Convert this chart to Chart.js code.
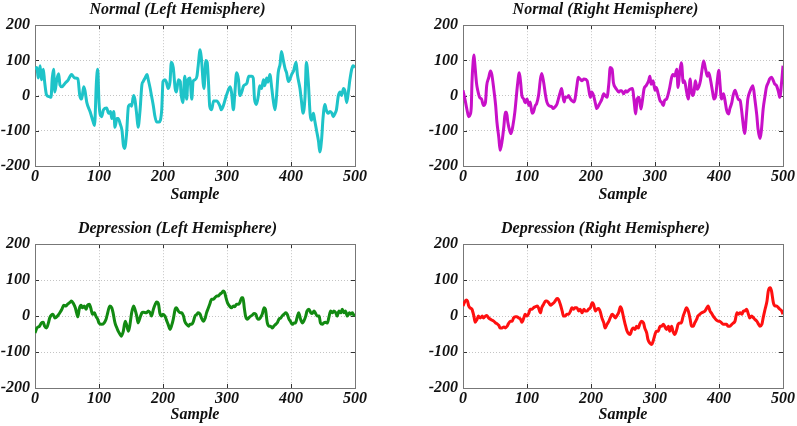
<!DOCTYPE html>
<html>
<head>
<meta charset="utf-8">
<script src="https://cdn.jsdelivr.net/npm/chart.js@4.4.1/dist/chart.umd.min.js"></script>
<style>
  body { margin: 0; background: #fff; width: 797px; height: 426px; overflow: hidden; position: relative; }
  .panel { position: absolute; width: 369px; }
</style>
</head>
<body>
<div class="panel" style="left:0;top:0;height:205px"><canvas id="normLeft"></canvas></div>
<div class="panel" style="left:428px;top:0;height:205px"><canvas id="normRight"></canvas></div>
<div class="panel" style="left:0;top:219px;height:206px"><canvas id="depLeft"></canvas></div>
<div class="panel" style="left:428px;top:219px;height:206px"><canvas id="depRight"></canvas></div>
<script>
// tick labels
var xTickValues = [0, 100, 200, 300, 400, 500];
var yTickValues = [-200, -100, 0, 100, 200];

var panelTitles = ['Normal (Left Hemisphere)', 'Normal (Right Hemisphere)',
  'Depression (Left Hemisphere)', 'Depression (Right Hemisphere)'];

// Normal, left hemisphere
var normLeftSample = [
  0, 3, 5, 8, 10, 13, 15, 18, 22, 25,
  27, 29, 31, 34, 37, 39, 42, 47, 52, 57,
  62, 67, 70, 73, 76, 78, 81, 86, 91, 93,
  96, 98, 100, 102, 104, 107, 112, 115, 118, 120,
  123, 125, 128, 130, 133, 136, 138, 140, 143, 146,
  149, 151, 154, 156, 159, 161, 164, 167, 169, 172,
  175, 177, 180, 182, 185, 187, 190, 194, 198, 200,
  203, 205, 208, 211, 213, 216, 219, 221, 224, 227,
  228, 231, 234, 237, 239, 242, 245, 247, 250, 253,
  255, 258, 260, 264, 267, 269, 271, 273, 276, 279,
  284, 289, 291, 294, 299, 305, 307, 310, 312, 315,
  318, 320, 323, 326, 331, 334, 339, 341, 343, 346,
  349, 351, 354, 357, 359, 362, 364, 367, 370, 372,
  375, 377, 380, 383, 385, 388, 391, 393, 396, 398,
  401, 404, 408, 410, 414, 416, 419, 422, 424, 427,
  430, 432, 435, 437, 440, 443, 445, 448, 450, 453,
  455, 458, 461, 464, 466, 469, 471, 474, 477, 479,
  482, 484, 487, 490, 492, 497, 500];
var normLeftValue = [
  75, 80, 50, 85, 45, 75, 40, 2, -3, -5,
  50, 75, 10, 45, 62, 30, 25, 35, 45, 60,
  50, 48, 0, -10, 25, 15, -20, -45, -75, -85,
  40, 75, -20, -55, -60, -40, -35, -50, -45, -65,
  -45, -90, -65, -65, -80, -100, -140, -150, -110, -30,
  -25, -30, 0, -10, -55, -90, -45, 30, 40, 50,
  60, 45, 20, 0, -30, -55, -75, -75, -40, 40,
  45, 40, 20, 40, 95, 80, 20, 10, 45, 40,
  10, -20, 55, -10, 45, 50, -10, 40, 45, 55,
  85, 130, 105, 20, 100, 95, 40, -30, -40, -15,
  -15, -30, -40, -30, 0, 25, 10, -40, 0, 65,
  45, 0, 10, 28, 35, 55, 55, 50, -10, -25,
  0, 28, 20, 45, 28, 50, 38, 60, 20, -10,
  -40, -10, 65, 90, 125, 100, 75, 65, 40, 45,
  60, 70, 95, 60, 20, -10, -50, 0, 95, 40,
  -55, -70, -50, -70, -100, -130, -160, -120, -65, -25,
  -40, -50, -45, -50, -60, -50, -40, 0, 10, 0,
  20, 15, -20, 15, 45, 85, 80];

// Normal, right hemisphere
var normRightSample = [
  0, 3, 6, 9, 11, 13, 14, 16, 17, 18,
  21, 23, 26, 29, 32, 35, 37, 40, 43, 45,
  48, 51, 53, 56, 58, 61, 64, 66, 68, 70,
  73, 75, 78, 81, 83, 85, 88, 90, 92, 95,
  97, 100, 103, 105, 108, 110, 113, 115, 118, 121,
  123, 126, 129, 131, 134, 139, 141, 144, 147, 149,
  152, 154, 156, 158, 160, 163, 165, 168, 170, 173,
  175, 178, 180, 183, 186, 189, 194, 196, 199, 201,
  204, 207, 209, 212, 215, 217, 220, 222, 225, 228,
  230, 233, 235, 238, 240, 243, 246, 248, 251, 254,
  256, 259, 261, 265, 267, 270, 272, 275, 278, 280,
  283, 286, 290, 292, 294, 297, 300, 302, 305, 308,
  310, 313, 315, 318, 320, 323, 326, 328, 331, 334,
  336, 338, 341, 342, 344, 346, 349, 352, 355, 356,
  359, 361, 363, 366, 369, 371, 374, 376, 379, 382,
  384, 387, 390, 392, 395, 397, 400, 401, 404, 407,
  409, 412, 415, 417, 420, 422, 425, 428, 430, 433,
  435, 438, 440, 443, 445, 448, 451, 453, 456, 459,
  461, 464, 466, 469, 472, 474, 477, 479, 482, 485,
  487, 490, 493, 495, 498, 500];
var normRightValue = [
  15, -10, -38, -60, -55, -30, 37, 100, 115, 100,
  37, 15, -5, -10, -28, -20, 28, 50, 70, 60,
  20, -28, -75, -120, -155, -130, -85, -47, -47, -75,
  -100, -108, -85, -47, -10, 28, 65, 38, 0, -10,
  -20, -10, -28, -18, -50, -47, -28, -23, 0, 47,
  63, 38, 0, -18, -28, -32, -37, -32, -23, -10,
  10, 20, 0, -18, -5, -5, 0, -10, -14, -18,
  -10, 28, 52, 47, 42, 47, 42, 23, -5, 10,
  0, -23, -37, -28, -18, -10, 5, 0, -5, 37,
  80, 75, 37, 23, 18, 10, 14, 14, 5, 14,
  10, 15, 18, 20, -10, -52, -10, -5, -38, -18,
  20, 28, 42, 55, 32, 42, 15, 23, 5, -15,
  -18, -28, -14, -10, 0, 23, 52, 60, 56, 75,
  23, 55, 93, 84, 37, 42, 15, -10, 47, 28,
  0, 10, 42, 18, 28, 42, 80, 98, 75, 55,
  65, 42, 10, -10, 0, 37, 72, 47, -10, 5,
  -10, -42, -52, -37, -20, 0, 15, 0, -10, -14,
  -37, -85, -108, -52, -10, 10, 23, 28, -10, -55,
  -95, -122, -103, -38, 0, 23, 37, 47, 52, 42,
  33, 28, 10, -5, 42, 85];

// Depression, left hemisphere
var depLeftSample = [
  0, 3, 7, 10, 13, 15, 18, 21, 23, 28,
  31, 35, 39, 42, 45, 48, 51, 55, 57, 60,
  63, 65, 67, 69, 72, 74, 77, 80, 82, 85,
  87, 90, 93, 95, 98, 100, 104, 108, 111, 113,
  117, 120, 122, 125, 128, 130, 133, 135, 138, 141,
  143, 146, 148, 151, 154, 156, 159, 161, 164, 167,
  169, 174, 177, 180, 182, 185, 188, 190, 193, 195,
  198, 200, 203, 206, 208, 211, 214, 216, 219, 221,
  224, 227, 229, 232, 234, 237, 240, 242, 245, 247,
  250, 253, 255, 258, 260, 263, 266, 268, 271, 273,
  276, 279, 281, 284, 286, 289, 292, 294, 296, 299,
  301, 304, 307, 310, 312, 315, 318, 320, 323, 325,
  327, 329, 332, 334, 337, 339, 342, 345, 347, 350,
  352, 355, 358, 360, 363, 366, 368, 371, 373, 376,
  379, 381, 384, 386, 389, 392, 394, 397, 399, 402,
  405, 407, 410, 412, 415, 418, 420, 423, 425, 428,
  431, 433, 436, 438, 441, 444, 446, 449, 451, 454,
  457, 459, 462, 465, 467, 470, 472, 475, 478, 480,
  483, 485, 488, 491, 493, 496, 498, 500];
var depLeftValue = [
  -47, -33, -28, -19, -17, -28, -33, -19, -5, 5,
  -5, 0, 10, 19, 30, 28, 33, 39, 42, 35,
  23, 9, -2, 19, 30, 23, 28, 19, 30, 33,
  23, 5, 9, 0, -9, -19, -23, -19, -9, 5,
  28, 23, 9, -19, -33, -42, -51, -56, -42, -14,
  -23, -42, -28, 9, 28, 20, 0, -19, -5, 9,
  11, 9, 14, 9, 0, 19, 33, 39, 33, 9,
  0, 5, 0, -14, -23, -37, -23, -9, 19, 23,
  14, 9, 9, 0, -14, -23, -28, -23, -23, -17,
  0, 5, 9, 5, -5, -14, -5, 9, 23, 33,
  47, 47, 51, 56, 56, 61, 65, 70, 67, 47,
  36, 28, 23, 28, 26, 33, 33, 37, 51, 51,
  23, 0, -9, -5, 0, 2, 7, 5, -5, -9,
  -5, 5, 23, 19, -19, -28, -28, -33, -28, -23,
  -17, -9, -5, 0, 5, 9, 5, -9, -14, -23,
  -19, -19, 0, 9, -9, -19, -14, 0, 14, 19,
  9, 7, 14, 9, 0, 0, -19, -23, -19, -17,
  -19, -5, 14, 9, 14, 9, 0, 14, 9, 19,
  9, 14, 0, 9, 5, 9, 3, 2];

// Depression, right hemisphere
var depRightSample = [
  0, 2, 5, 7, 9, 11, 14, 17, 19, 22,
  24, 27, 30, 32, 35, 37, 40, 43, 45, 48,
  51, 53, 56, 58, 61, 64, 66, 69, 71, 74,
  77, 79, 82, 84, 87, 90, 92, 95, 97, 100,
  103, 105, 108, 110, 113, 116, 118, 121, 123, 126,
  129, 131, 134, 137, 139, 142, 144, 147, 149, 152,
  155, 157, 160, 162, 165, 168, 170, 173, 175, 178,
  181, 183, 186, 189, 191, 194, 196, 199, 202, 204,
  207, 209, 212, 215, 217, 220, 222, 225, 228, 230,
  233, 235, 238, 240, 243, 246, 248, 251, 253, 256,
  258, 261, 264, 266, 269, 271, 274, 276, 279, 282,
  284, 287, 289, 292, 295, 297, 300, 302, 305, 308,
  310, 313, 315, 318, 321, 323, 326, 328, 331, 334,
  336, 339, 341, 344, 347, 349, 352, 355, 357, 360,
  362, 365, 367, 370, 373, 375, 378, 381, 383, 386,
  388, 391, 393, 396, 399, 401, 404, 407, 409, 412,
  414, 417, 420, 422, 425, 428, 430, 433, 436, 438,
  440, 443, 446, 448, 451, 454, 456, 459, 462, 464,
  467, 469, 472, 475, 477, 480, 482, 485, 488, 490,
  493, 495, 498, 500];
var depRightValue = [
  28, 37, 45, 42, 28, 23, 19, 0, -17, -9,
  0, -5, 0, -5, 0, 2, -5, -9, -11, -14,
  -19, -21, -26, -33, -33, -30, -33, -28, -21, -14,
  -14, -5, -2, -2, -5, -9, -17, -5, 5, 0,
  9, 19, 19, 23, 26, 28, 23, 9, 23, 33,
  42, 42, 37, 30, 33, 37, 42, 49, 47, 33,
  14, 0, 0, 5, 5, 14, 23, 19, 23, 23,
  14, 19, 9, 19, 14, 14, 19, 23, 37, 33,
  14, 19, 21, 9, -5, -19, -33, -23, -14, -5,
  5, 2, -5, 0, 9, 26, 19, -5, -20, -40,
  -47, -51, -37, -33, -37, -28, -33, -23, -14, -19,
  -33, -47, -65, -75, -79, -70, -51, -42, -42, -28,
  -28, -23, -28, -37, -28, -42, -28, -42, -51, -37,
  -23, -19, -19, 0, 14, 23, 14, -9, -28, -28,
  -19, -9, 0, 5, 9, 11, 14, 23, 28, 14,
  9, 0, -5, -11, -14, -14, -19, -23, -23, -23,
  -28, -28, -23, -20, -14, 9, 5, 9, 5, 14,
  14, 19, 5, -5, 0, -5, -9, -14, -23, -28,
  -23, -5, 19, 42, 70, 79, 70, 37, 28, 28,
  23, 19, 14, 5];

var labelFont = { family: "'Liberation Serif', 'Times New Roman', serif", size: 16, weight: 'bold', style: 'italic' };

// box around the plot area plus small inward ticks
var framePlugin = {
  id: 'frame',
  beforeDatasetsDraw: function(chart) {
    var ctx = chart.ctx, a = chart.chartArea, sx = chart.scales.x, sy = chart.scales.y;
    ctx.save();
    ctx.lineWidth = 1;
    ctx.strokeStyle = '#333';
    ctx.beginPath();
    sx.ticks.forEach(function(t) {
      var px = Math.round(sx.getPixelForValue(t.value)) + 0.5;
      ctx.moveTo(px, a.bottom); ctx.lineTo(px, a.bottom - 4);
      ctx.moveTo(px, a.top); ctx.lineTo(px, a.top + 4);
    });
    sy.ticks.forEach(function(t) {
      var py = Math.round(sy.getPixelForValue(t.value)) + 0.5;
      ctx.moveTo(a.left, py); ctx.lineTo(a.left + 4, py);
      ctx.moveTo(a.right, py); ctx.lineTo(a.right - 4, py);
    });
    ctx.stroke();
    ctx.strokeStyle = '#777';
    ctx.strokeRect(Math.round(a.left) + 0.5, Math.round(a.top) + 0.5, Math.round(a.width), Math.round(a.height));
    ctx.restore();
  }
};

function makeChart(id, title, samples, values, color, xHeight) {
  var points = samples.map(function(s, i) { return { x: s, y: values[i] }; });
  return new Chart(document.getElementById(id), {
    type: 'line',
    data: {
      datasets: [{
        data: points,
        borderColor: color,
        borderWidth: 3,
        pointRadius: 0,
        cubicInterpolationMode: 'monotone',
        fill: false
      }]
    },
    options: {
      responsive: true,
      maintainAspectRatio: false,
      animation: false,
      layout: { padding: { left: 0, right: 14, top: 0, bottom: 0 } },
      plugins: {
        legend: { display: false },
        tooltip: { enabled: false },
        title: {
          display: true,
          text: title,
          color: '#111',
          font: labelFont,
          padding: { top: 0, bottom: 6 }
        }
      },
      scales: {
        x: {
          type: 'linear',
          min: 0,
          max: 500,
          afterBuildTicks: function(s) { s.ticks = xTickValues.map(function(v) { return { value: v }; }); },
          afterFit: function(s) { s.height = xHeight; },
          ticks: { color: '#111', font: labelFont, padding: 1, maxRotation: 0, autoSkip: false },
          grid: { color: '#c4c4c4', drawTicks: false },
          border: { display: false, dash: [1, 2] },
          title: { display: true, text: 'Sample', color: '#111', font: labelFont, padding: { top: 0, bottom: 1 } }
        },
        y: {
          min: -200,
          max: 200,
          afterBuildTicks: function(s) { s.ticks = yTickValues.map(function(v) { return { value: v }; }); },
          afterFit: function(s) { s.width = 35; },
          ticks: { color: '#111', font: labelFont, padding: 5 },
          grid: { color: '#c4c4c4', drawTicks: false },
          border: { display: false, dash: [1, 2] }
        }
      }
    },
    plugins: [framePlugin]
  });
}

makeChart('normLeft', panelTitles[0], normLeftSample, normLeftValue, '#1ec3c8', 39);
makeChart('normRight', panelTitles[1], normRightSample, normRightValue, '#c810c8', 39);
makeChart('depLeft', panelTitles[2], depLeftSample, depLeftValue, '#128a12', 37);
makeChart('depRight', panelTitles[3], depRightSample, depRightValue, '#ff1010', 37);
</script>
</body>
</html>
